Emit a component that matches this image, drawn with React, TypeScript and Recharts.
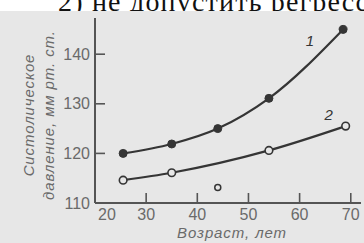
import { ComposedChart, Line, Scatter, XAxis, YAxis, ReferenceDot } from "recharts";

// Systolic pressure by age, curves 1 and 2
const ages1 = [25.5, 35, 44, 54, 68.5];
const pressure1 = [120, 121.9, 125, 131.1, 145];
const ages2 = [25.5, 35, 54, 69];
const pressure2 = [114.6, 116.1, 120.6, 125.5];
const outlierAges = [44];
const outlierPressure = [113.1];
const xTicks = [20, 30, 40, 50, 60, 70];
const yTicks = [110, 120, 130, 140];

const series1 = ages1.map((age, i) => ({ age, value: pressure1[i] }));
const series2 = ages2.map((age, i) => ({ age, value: pressure2[i] }));
const outliers = outlierAges.map((age, i) => ({ age, value: outlierPressure[i] }));

const bg = "#e7e7e7";
const ink = "#353535";
const axisInk = "#555";
const textInk = "#6a6a6a";
const sans = "'Liberation Sans', Arial, sans-serif";

function YTick({ x, y, payload }: any) {
  const axisX = x + 4;
  return (
    <g>
      {payload.value !== 110 && (
        <line x1={axisX} x2={axisX + 10} y1={y} y2={y} stroke={axisInk} strokeWidth={1.6} />
      )}
      <text
        x={x - 1}
        y={y}
        textAnchor="end"
        dominantBaseline="central"
        fill={textInk}
        fontSize={16}
        fontFamily={sans}
      >
        {payload.value}
      </text>
    </g>
  );
}

function XTick({ x, y, payload }: any) {
  const axisY = y - 4;
  const first = payload.value === 20;
  return (
    <g>
      {!first && (
        <line x1={x} x2={x} y1={axisY} y2={axisY - 10} stroke={axisInk} strokeWidth={1.6} />
      )}
      <text
        x={first ? x + 12 : x}
        y={axisY + 17}
        textAnchor="middle"
        fill={textInk}
        fontSize={16}
        fontFamily={sans}
      >
        {payload.value}
      </text>
    </g>
  );
}

function YTitle() {
  return (
    <g fill={textInk} fontSize={15} fontStyle="italic" fontFamily={sans} letterSpacing={0.9}>
      <text x={28} y={115} transform="rotate(-90 28 115)" textAnchor="middle" dominantBaseline="central">
        Систолическое
      </text>
      <text x={48} y={115} transform="rotate(-90 48 115)" textAnchor="middle" dominantBaseline="central">
        давление, мм рт. ст.
      </text>
    </g>
  );
}

function OpenDot(props: any) {
  const { cx, cy } = props;
  return <circle cx={cx} cy={cy} r={3} fill={bg} stroke={ink} strokeWidth={1.5} />;
}

export default function App() {
  return (
    <div style={{ position: "absolute", left: 0, top: 0, width: 364, height: 243, overflow: "hidden", background: "#fff" }}>
      <div
        style={{
          position: "absolute",
          left: 58,
          top: -12.5,
          fontFamily: "'Liberation Serif', 'Times New Roman', serif",
          fontSize: 28,
          lineHeight: "28px",
          letterSpacing: 1.2,
          whiteSpace: "nowrap",
          color: "#111",
        }}
      >
        2) не допустить регрессии
      </div>
      <div style={{ position: "absolute", left: 0, top: 11, width: 364, height: 232, background: bg }} />
      <div style={{ position: "absolute", left: 0, top: 0 }}>
        <ComposedChart width={364} height={243} margin={{ top: 18, right: 3, bottom: 0, left: 0 }}>
          <XAxis
            dataKey="age"
            type="number"
            domain={[20, 72]}
            ticks={xTicks}
            allowDataOverflow
            height={40}
            tickSize={0}
            tickMargin={4}
            tickLine={false}
            axisLine={{ stroke: axisInk, strokeWidth: 2 }}
            tick={<XTick />}
            label={{
              value: "Возраст, лет",
              position: "insideBottom",
              offset: 5,
              fill: textInk,
              fontSize: 15,
              fontStyle: "italic",
              fontFamily: sans,
              letterSpacing: 0.9,
              dx: 4,
            }}
          />
          <YAxis
            dataKey="value"
            type="number"
            domain={[110, 147.3]}
            ticks={yTicks}
            allowDataOverflow
            width={95}
            tickSize={0}
            tickMargin={4}
            tickLine={false}
            axisLine={{ stroke: axisInk, strokeWidth: 2 }}
            tick={<YTick />}
            label={{ content: () => <YTitle /> }}
          />
          <Line
            data={series1}
            dataKey="value"
            type="monotone"
            stroke={ink}
            strokeWidth={2.2}
            dot={{ r: 4, fill: ink, stroke: ink, strokeWidth: 1 }}
            isAnimationActive={false}
          />
          <Line
            data={series2}
            dataKey="value"
            type="monotone"
            stroke={ink}
            strokeWidth={2.2}
            dot={{ r: 3.8, fill: bg, stroke: ink, strokeWidth: 1.6 }}
            isAnimationActive={false}
          />
          <Scatter data={outliers} dataKey="value" shape={<OpenDot />} isAnimationActive={false} />
          <ReferenceDot
            x={62}
            y={142.8}
            r={0}
            fill="none"
            stroke="none"
            label={{ value: "1", fill: ink, fontSize: 15, fontStyle: "italic", fontFamily: sans }}
          />
          <ReferenceDot
            x={65.7}
            y={127.8}
            r={0}
            fill="none"
            stroke="none"
            label={{ value: "2", fill: ink, fontSize: 15, fontStyle: "italic", fontFamily: sans }}
          />
        </ComposedChart>
      </div>
    </div>
  );
}
